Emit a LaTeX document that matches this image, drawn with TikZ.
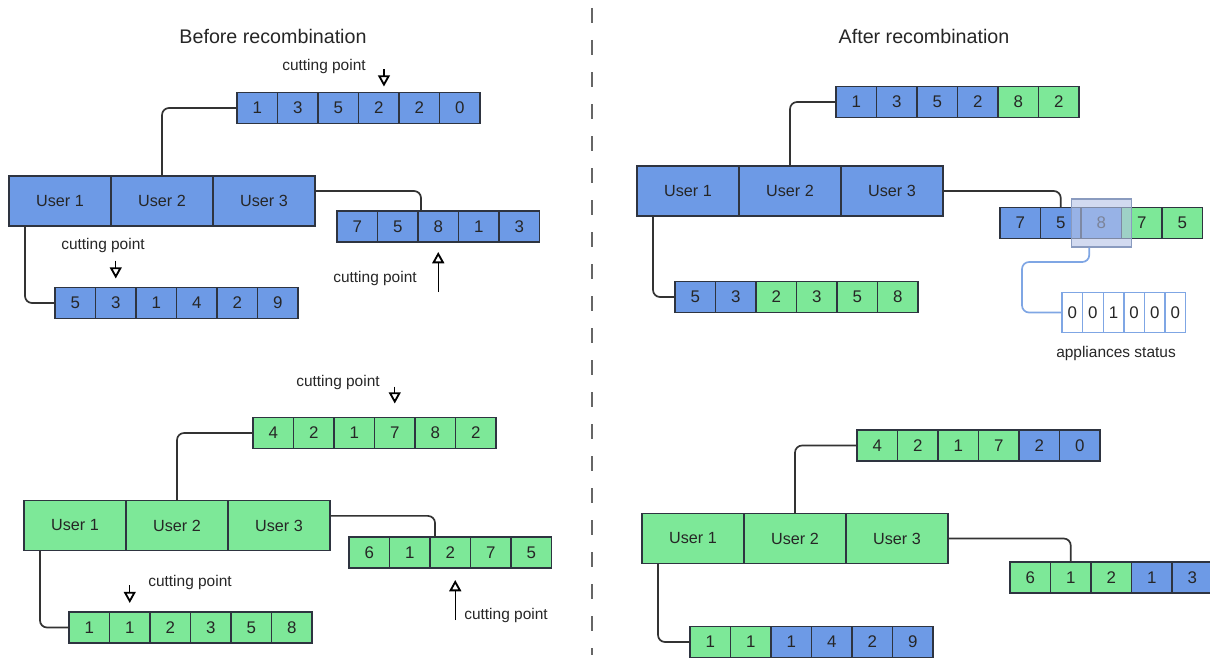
\documentclass[tikz,border=0pt]{standalone}
\usepackage{fontspec}
\setmainfont{Liberation Sans}
\usetikzlibrary{
  arrows.meta,
  positioning
}
\definecolor{geneblue}{HTML}{6D9AE6}
\definecolor{genegreen}{HTML}{7DE898}
\definecolor{cellline}{HTML}{2E3440}
\definecolor{connline}{HTML}{333333}
\definecolor{statusblue}{HTML}{7FA6E4}
\definecolor{hlfill}{HTML}{B4C2E6}
\definecolor{hlline}{HTML}{8A9BBF}
\tikzset{
  conn/.style={draw=connline, line width=1.2pt, rounded corners=5pt},
  statusline/.style={draw=statusblue, line width=1.2pt, rounded corners=5pt},
  cell/.style={
    draw=cellline,
    line width=1pt,
    rectangle,
    minimum width=10.125mm,
    minimum height=7.75mm,
    inner sep=0pt,
    outer sep=0pt,
    anchor=west,
    text=black!85,
    font=\fontsize{12}{14}\selectfont
  },
  usr/.style={cell, anchor=center, minimum width=25.5mm, minimum height=12.5mm, font=\fontsize{11.5}{13}\selectfont},
  stcell/.style={cell, draw=statusblue, fill=white, minimum width=5.15mm, minimum height=10mm},
  cutarrow/.style={draw=black, line width=1pt, -{Triangle[open, length=8pt, width=8.5pt, line width=1.3pt]}},
  cutlabel/.style={font=\fontsize{11}{13}\selectfont, text=black!85},
  paneltitle/.style={font=\fontsize{14}{16}\selectfont, text=black!85},
  divider/.style={draw=gray!80!black, line width=1.4pt, dash pattern=on 3.75mm off 4.25mm}
}

\begin{document}
\begin{tikzpicture}[x=0.25mm, y=-0.25mm]
  \useasboundingbox (0,0) rectangle (1210,657);

  % ---- before recombination, first individual ----
  \node[paneltitle] (beforetitle) at (273,36) {Before recombination};

  \node[usr, fill=geneblue] (bbu1) at (60,201) {User 1};
  \node[usr, fill=geneblue, right=0pt of bbu1] (bbu2) {User 2};
  \node[usr, fill=geneblue, right=0pt of bbu2] (bbu3) {User 3};

  \foreach \v [count=\i] in {1,3,5,2,2,0}
    \node[cell, fill=geneblue] (bbtop\i) at ({237+(\i-1)*40.5},108) {\v};
  \foreach \v [count=\i] in {7,5,8,1,3}
    \node[cell, fill=geneblue] (bbmid\i) at ({337+(\i-1)*40.5},226.5) {\v};
  \foreach \v [count=\i] in {5,3,1,4,2,9}
    \node[cell, fill=geneblue] (bblow\i) at ({55+(\i-1)*40.5},303) {\v};

  \draw[conn] (bbu2.north) |- (bbtop1.west);
  \draw[conn] ([yshift=2.5mm]bbu3.east) -| ([xshift=0.75mm]bbmid3.north west);
  \draw[conn] ([xshift=4mm]bbu1.south west) |- (bblow1.west);

  \node[cutlabel] (bbcut1) at (324,67) {cutting point};
  \draw[cutarrow] ([xshift=1.3mm, yshift=5.75mm]bbtop4.north) -- ([xshift=1.3mm, yshift=1.5mm]bbtop4.north);
  \node[cutlabel] (bbcut2) at (375,278) {cutting point};
  \draw[cutarrow] ([yshift=-12.5mm]bbmid3.south) -- ([yshift=-2.5mm]bbmid3.south);
  \node[cutlabel] (bbcut3) at (103,245) {cutting point};
  \draw[cutarrow] ([yshift=6.75mm]bblow2.north) -- ([yshift=2.25mm]bblow2.north);

  % ---- before recombination, second individual ----
  \node[usr, fill=genegreen] (bgu1) at (75,525.5) {User 1};
  \node[usr, fill=genegreen, right=0pt of bgu1] (bgu2) {User 2};
  \node[usr, fill=genegreen, right=0pt of bgu2] (bgu3) {User 3};

  \foreach \v [count=\i] in {4,2,1,7,8,2}
    \node[cell, fill=genegreen] (bgtop\i) at ({253+(\i-1)*40.5},433) {\v};
  \foreach \v [count=\i] in {6,1,2,7,5}
    \node[cell, fill=genegreen] (bgmid\i) at ({349+(\i-1)*40.5},552.5) {\v};
  \foreach \v [count=\i] in {1,1,2,3,5,8}
    \node[cell, fill=genegreen] (bglow\i) at ({69+(\i-1)*40.5},627.5) {\v};

  \draw[conn] (bgu2.north) |- (bgtop1.west);
  \draw[conn] ([yshift=2.4mm]bgu3.east) -| ([xshift=1.25mm]bgmid3.north west);
  \draw[conn] ([xshift=4mm]bgu1.south west) |- (bglow1.west);

  \node[cutlabel] (bgcut1) at (338,382) {cutting point};
  \draw[cutarrow] ([yshift=7.75mm]bgtop4.north) -- ([yshift=3.5mm]bgtop4.north);
  \node[cutlabel] (bgcut2) at (506,615) {cutting point};
  \draw[cutarrow] ([xshift=1.25mm, yshift=-13mm]bgmid3.south) -- ([xshift=1.25mm, yshift=-3mm]bgmid3.south);
  \node[cutlabel] (bgcut3) at (190,582) {cutting point};
  \draw[cutarrow] ([yshift=6.75mm]bglow2.north) -- ([yshift=2.25mm]bglow2.north);

  % divider
  \coordinate (divtop) at (592,8);
  \coordinate (divbot) at (592,655);
  \draw[divider] (divtop) -- (divbot);

  % ---- after recombination, first individual ----
  \node[paneltitle] (aftertitle) at (924,36) {After recombination};

  \node[usr, fill=geneblue] (abu1) at (688,191) {User 1};
  \node[usr, fill=geneblue, right=0pt of abu1] (abu2) {User 2};
  \node[usr, fill=geneblue, right=0pt of abu2] (abu3) {User 3};

  \foreach \v/\f [count=\i] in {1/geneblue,3/geneblue,5/geneblue,2/geneblue,8/genegreen,2/genegreen}
    \node[cell, fill=\f] (abtop\i) at ({836+(\i-1)*40.5},102) {\v};
  \foreach \v/\f [count=\i] in {7/geneblue,5/geneblue,8/geneblue,7/genegreen,5/genegreen}
    \node[cell, fill=\f] (abmid\i) at ({1000+(\i-1)*40.5},223) {\v};
  \foreach \v/\f [count=\i] in {5/geneblue,3/geneblue,2/genegreen,3/genegreen,5/genegreen,8/genegreen}
    \node[cell, fill=\f] (ablow\i) at ({675+(\i-1)*40.5},297) {\v};

  \draw[conn] (abu2.north) |- (abtop1.west);
  \draw[conn] (abu3.east) -| (abmid2.north);
  \draw[conn] ([xshift=4mm]abu1.south west) |- (ablow1.west);

  % mutated gene and appliances status
  \node[draw=hlline, fill=hlfill, fill opacity=0.6, line width=0.9pt, minimum width=15mm, minimum height=12mm] (hl) at (abmid3) {};
  \foreach \v [count=\i] in {0,0,1,0,0,0}
    \node[stcell] (st\i) at ({1062+(\i-1)*20.6},312.5) {\v};
  \node[cutlabel] (stlabel) at (1116,353) {appliances status};
  \coordinate (stbend) at (1022,262);
  \draw[statusline] ([xshift=-3mm]hl.south) |- (stbend) |- (st1.west);

  % ---- after recombination, second individual ----
  \node[usr, fill=genegreen] (agu1) at (693,538.5) {User 1};
  \node[usr, fill=genegreen, right=0pt of agu1] (agu2) {User 2};
  \node[usr, fill=genegreen, right=0pt of agu2] (agu3) {User 3};

  \foreach \v/\f [count=\i] in {4/genegreen,2/genegreen,1/genegreen,7/genegreen,2/geneblue,0/geneblue}
    \node[cell, fill=\f] (agtop\i) at ({857+(\i-1)*40.5},445.5) {\v};
  \foreach \v/\f [count=\i] in {6/genegreen,1/genegreen,2/genegreen,1/geneblue,3/geneblue}
    \node[cell, fill=\f] (agmid\i) at ({1010+(\i-1)*40.5},577.5) {\v};
  \foreach \v/\f [count=\i] in {1/genegreen,1/genegreen,1/geneblue,4/geneblue,2/geneblue,9/geneblue}
    \node[cell, fill=\f] (aglow\i) at ({690+(\i-1)*40.5},642) {\v};

  \draw[conn] (agu2.north) |- (agtop1.west);
  \draw[conn] (agu3.east) -| (agmid2.north);
  \draw[conn] ([xshift=4mm]agu1.south west) |- (aglow1.west);
\end{tikzpicture}
\end{document}
